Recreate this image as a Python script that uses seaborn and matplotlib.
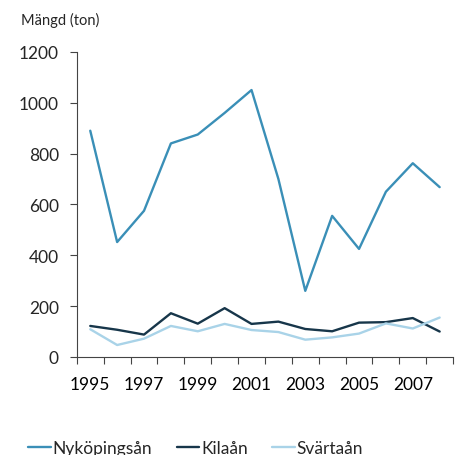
import numpy as np
import pandas as pd
import matplotlib.pyplot as plt
import seaborn as sns
from matplotlib.ticker import FixedLocator

years = list(range(1995, 2009))
nykopingsan = [890, 452, 575, 840, 875, 960, 1050, 700, 260, 555, 425, 650, 762, 668]
kilaan = [122, 107, 88, 172, 131, 192, 130, 139, 110, 101, 135, 137, 153, 100]
svartaan = [109, 47, 72, 122, 101, 130, 106, 98, 68, 77, 92, 132, 112, 155]
series_names = ['Nyköpingsån', 'Kilaån', 'Svärtaån']
colors = ['#3a8fb7', '#17364a', '#a9d3e8']


def plot(data_df):
    sns.set_theme(style="ticks")
    plt.rcParams['font.family'] = ['Lato', 'DejaVu Sans']
    fig = plt.figure(figsize=(4.6, 4.56), dpi=100)
    ax = fig.add_axes([0.167, 0.215, 0.818, 0.669])
    sns.lineplot(x='pos', y='value', hue='series', data=data_df,
                 palette=dict(zip(series_names, colors)),
                 hue_order=series_names, linewidth=1.7, ax=ax)

    ax.set_xlim(-0.5, len(years) - 0.5)
    ax.set_ylim(0, 1200)
    ax.set_yticks(range(0, 1201, 200))
    ax.xaxis.set_major_locator(FixedLocator(np.arange(-0.5, len(years), 1)))
    ax.set_xticklabels([])
    ax.xaxis.set_minor_locator(FixedLocator(range(len(years))))
    ax.set_xticklabels([str(y) if i % 2 == 0 else '' for i, y in enumerate(years)],
                       minor=True)
    ax.tick_params(axis='x', which='minor', length=0, labelsize=12.5, pad=14,
                   colors='black')
    ax.tick_params(axis='x', which='major', length=5, width=0.8, color='#444444')
    ax.tick_params(axis='y', length=5, width=0.8, color='#444444', labelsize=12.5,
                   pad=8)
    ax.set_xlabel('')
    ax.set_ylabel('')
    for s in ['left', 'bottom']:
        ax.spines[s].set_color('#444444')
        ax.spines[s].set_linewidth(0.8)
    sns.despine(ax=ax)

    fig.text(0.045, 0.955, 'Mängd (ton)', fontsize=10.5, va='center', ha='left')
    ax.legend(loc='lower left', bbox_to_anchor=(-0.17, -0.375), ncol=3,
              frameon=False, fontsize=12.5, handlelength=1.3,
              handletextpad=0.1, columnspacing=1.4)
    fig.savefig('out.png', dpi=100)


if __name__ == '__main__':
    rows = []
    for name, vals in zip(series_names, [nykopingsan, kilaan, svartaan]):
        for i, (y, v) in enumerate(zip(years, vals)):
            rows.append({'pos': i, 'year': y, 'series': name, 'value': v})
    df = pd.DataFrame(rows)
    plot(df)
